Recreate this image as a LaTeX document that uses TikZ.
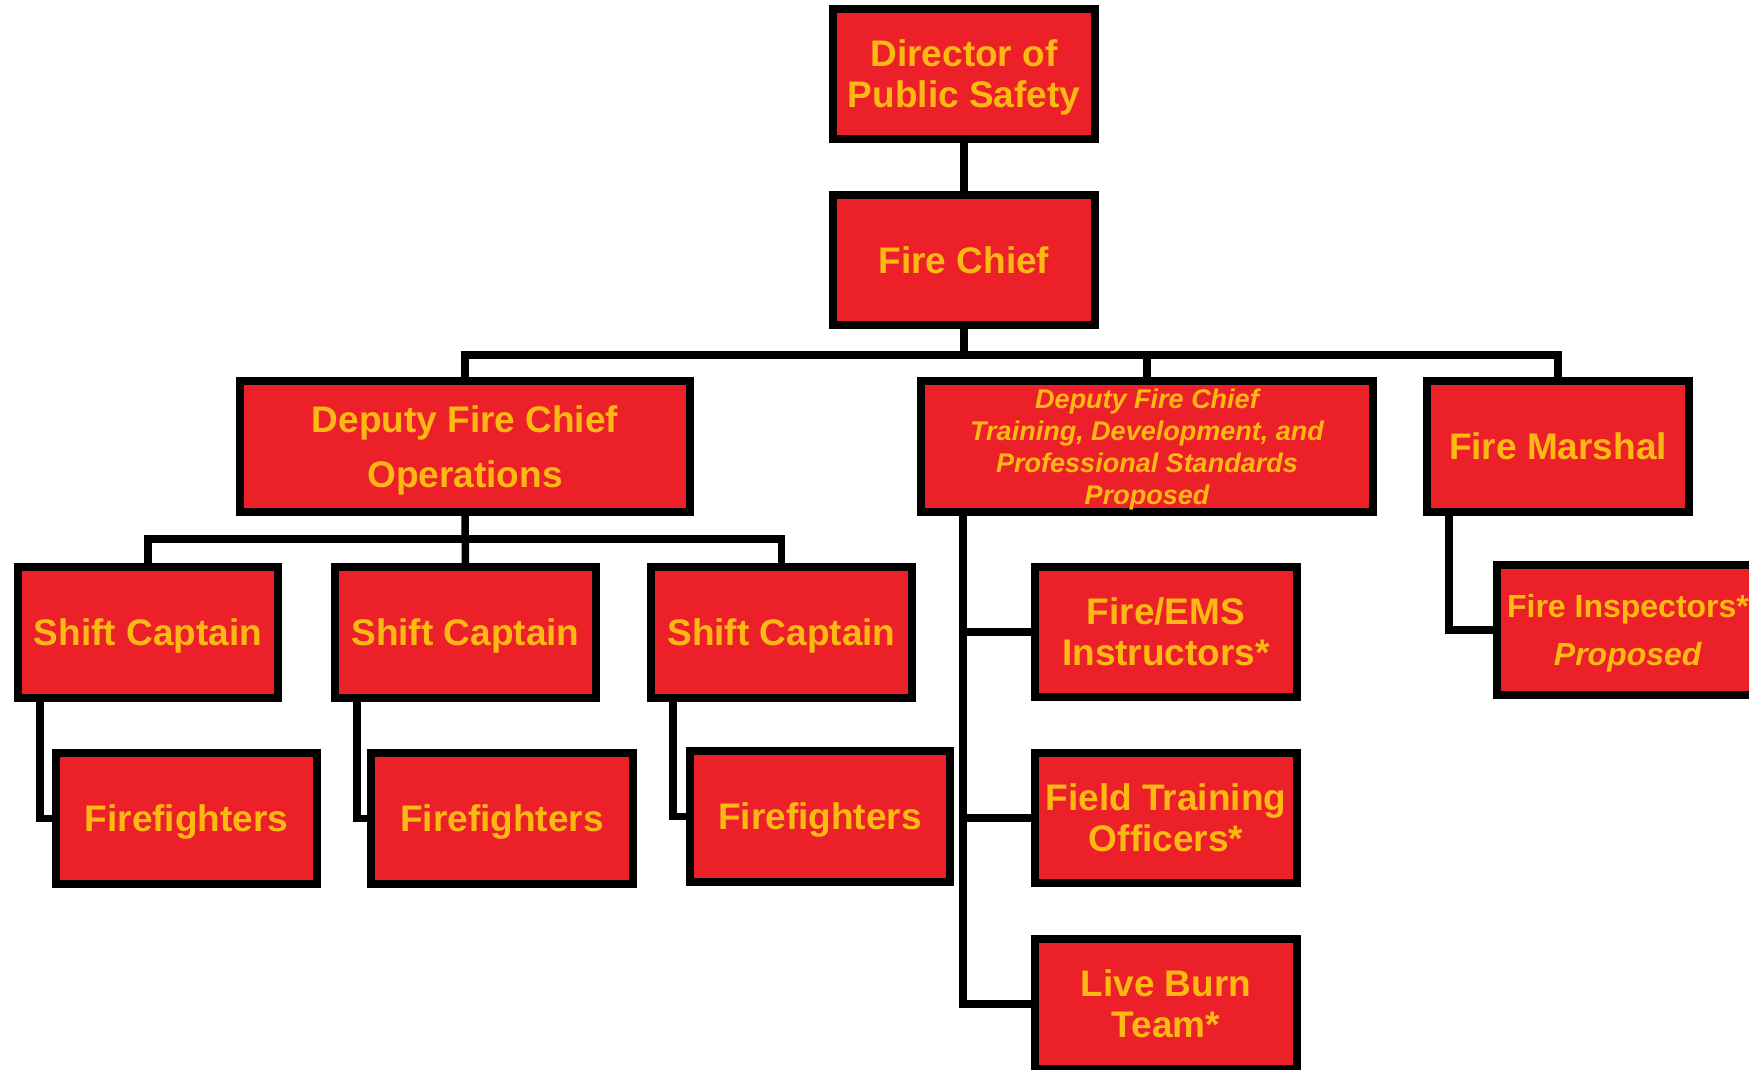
\documentclass[tikz,border=0pt]{standalone}
\usepackage{fontspec}
\setmainfont{Liberation Sans}
\definecolor{firered}{RGB}{236,32,41}
\definecolor{gold}{RGB}{253,185,19}
\begin{document}
\begin{tikzpicture}[x=1pt,y=-1pt,
  orgbox/.style={draw=black,line width=8pt,fill=firered,text=gold,inner sep=0pt,
    align=center,minimum width=262pt,minimum height=130pt,text depth=0pt,
    font=\bfseries\fontsize{37}{41}\selectfont},
  link/.style={draw=black,line width=7.5pt}]
\useasboundingbox[fill=white] (0,0) rectangle (1749,1070);

% connectors
\coordinate (bus) at (964,355);
\coordinate (obus) at (465,539);

% boxes
\node[orgbox] (dir) at (964,74) {Director of\\Public Safety};
\node[orgbox] (chief) at (964,260) {Fire Chief};
\node[orgbox,minimum width=450pt,minimum height=131pt,
  font=\bfseries\fontsize{37}{55}\selectfont] (ops) at (465,446.5) {Deputy Fire Chief\\Operations};
\node[orgbox,minimum width=452pt,minimum height=131pt,
  font=\bfseries\itshape\fontsize{27}{32}\selectfont] (tdp) at (1147,446.5)
  {Deputy Fire Chief\\Training, Development, and\\Professional Standards\\Proposed};
\node[orgbox,minimum height=131pt] (marshal) at (1558,446.5) {Fire Marshal};

\node[orgbox,minimum width=260pt,minimum height=131pt] (sc1) at (148,632.5) {Shift Captain};
\node[orgbox,minimum width=261pt,minimum height=131pt] (sc2) at (465.5,632.5) {Shift Captain};
\node[orgbox,minimum width=261pt,minimum height=131pt] (sc3) at (781.5,632.5) {Shift Captain};

\node[orgbox,minimum width=261pt,minimum height=131pt] (ff1) at (186.5,818.5) {Firefighters};
\node[orgbox,minimum width=262pt,minimum height=131pt] (ff2) at (502,818.5) {Firefighters};
\node[orgbox,minimum width=260pt,minimum height=131pt] (ff3) at (820,816.5) {Firefighters};

\node[orgbox] (ems) at (1166,632) {Fire/EMS\\Instructors*};
\node[orgbox] (field) at (1166,818) {Field Training\\Officers*};
\node[orgbox] (live) at (1166,1004) {Live Burn\\Team*};

\node[orgbox,font=\bfseries\fontsize{32}{48}\selectfont] (insp) at (1628,630) {Fire Inspectors*\\\textit{Proposed}};

% links
\draw[link] (dir.south) -- (chief.north);
\draw[link] (chief.south) -- (bus);
\draw[link] (ops.north) |- (bus) -| (marshal.north);
\draw[link] (tdp.north) -- (tdp.north |- bus);

\draw[link] (ops.south) -- (sc2.north);
\draw[link] (sc1.north) |- (obus) -| (sc3.north);

\draw[link] ([xshift=26pt]sc1.south west) |- (ff1.west);
\draw[link] ([xshift=26pt]sc2.south west) |- (ff2.west);
\draw[link] ([xshift=26pt]sc3.south west) |- (ff3.west);

\coordinate (tv) at ([xshift=46pt]tdp.south west);
\draw[link] (tv) |- (live.west);
\draw[link] (ems.west) -- (ems.west -| tv);
\draw[link] (field.west) -- (field.west -| tv);

\draw[link] ([xshift=26pt]marshal.south west) |- (insp.west);
\end{tikzpicture}
\end{document}
